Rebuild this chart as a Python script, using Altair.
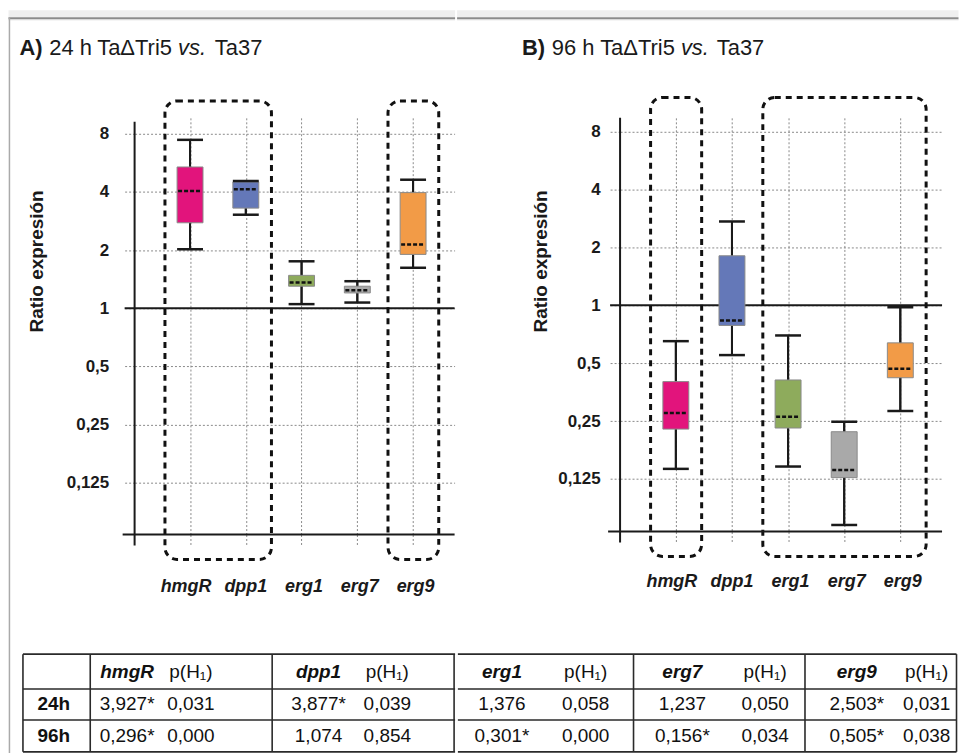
import altair as alt
import pandas as pd

FONT = "Liberation Sans"
INK = "#1a1a1a"
GRID = "#8a8a8a"

# ---------------- data ----------------
genes = ["hmgR", "dpp1", "erg1", "erg7", "erg9"]
gene_colors = ["#E2147C", "#6478B8", "#8EAB5C", "#A9A9A9", "#F29B47"]
y_ticks = [0.125, 0.25, 0.5, 1, 2, 4, 8]

# Panel A: 24 h  (whisker low, Q1, median, Q3, whisker high)
a_low = [2.02, 3.05, 1.05, 1.07, 1.62]
a_q1 = [2.77, 3.30, 1.30, 1.20, 1.90]
a_med = [4.05, 4.13, 1.36, 1.24, 2.14]
a_q3 = [5.39, 4.51, 1.48, 1.30, 3.97]
a_high = [7.45, 4.56, 1.75, 1.38, 4.63]
a_groups = [("hmgR", "dpp1"), ("erg9", "erg9")]

# Panel B: 96 h
b_low = [0.141, 0.551, 0.145, 0.072, 0.282]
b_q1 = [0.227, 0.786, 0.230, 0.127, 0.420]
b_med = [0.275, 0.834, 0.263, 0.139, 0.468]
b_q3 = [0.401, 1.81, 0.409, 0.220, 0.638]
b_high = [0.651, 2.73, 0.697, 0.248, 0.977]
b_groups = [("hmgR", "hmgR"), ("erg1", "erg9")]

# Table
table_rows = ["24h", "96h"]
ratio_24h = [3.927, 3.877, 1.376, 1.237, 2.503]
sig_24h = [True, True, False, False, True]
p_24h = [0.031, 0.039, 0.058, 0.050, 0.031]
ratio_96h = [0.296, 1.074, 0.301, 0.156, 0.505]
sig_96h = [True, False, True, True, True]
p_96h = [0.000, 0.854, 0.000, 0.034, 0.038]

# ---------------- layout constants ----------------
X_DOMAIN = [-0.905, 4.655]
one_row = alt.InlineData(values=[{"a": 1}])
TOP = 116          # page y of both plot tops
SPLIT = 456        # page x where panel A ends and panel B starts
RIGHT = 959        # page x of the right edge
TW, TH = 951, 100  # table block (chart coordinates: x from page 8, y from page TT)
TT = 654           # page y of table top
col_edges = [14.5, 82, 264.5, 447, 625, 797, 949]
row_edges = [0, 35, 66, 98]
label_x = 45.5
value_x = [119, 311, 493, 674, 849]
p_x = [183, 380, 577, 757, 919]
row_y = [(row_edges[k] + row_edges[k + 1]) / 2 for k in range(3)]


def fmt(v):
    return ("%.3f" % v).replace(".", ",")


cells = []
for gi, gname in enumerate(genes):
    cells.append(dict(x=value_x[gi], y=row_y[0], text=gname, kind="gene", g=gi))
    cells.append(dict(x=p_x[gi], y=row_y[0], text="p(H₁)", kind="phead", g=gi))
for r, (lab, vals, sig, ps) in enumerate(
        [(table_rows[0], ratio_24h, sig_24h, p_24h), (table_rows[1], ratio_96h, sig_96h, p_96h)],
        start=1):
    cells.append(dict(x=label_x, y=row_y[r], text=lab, kind="label", g=-1))
    for gi in range(len(genes)):
        cells.append(dict(x=value_x[gi], y=row_y[r],
                          text=fmt(vals[gi]) + ("*" if sig[gi] else ""), kind="value", g=gi))
        cells.append(dict(x=p_x[gi], y=row_y[r], text=fmt(ps[gi]), kind="value", g=gi))
cells_df = pd.DataFrame(cells)


def gene_frame(low, q1, med, q3, high):
    return pd.DataFrame({"gene": genes, "i": list(range(len(genes))), "low": low,
                         "q1": q1, "med": med, "q3": q3, "high": high})


def note(text, dx, dy, size, weight="normal", style="normal", angle=0, align="left",
         baseline="alphabetic"):
    return alt.Chart(one_row).mark_text(
        text=text, font=FONT, fontSize=size, fontWeight=weight, fontStyle=style,
        angle=angle, align=align, baseline=baseline, color=INK
    ).encode(x=alt.value(dx), y=alt.value(dy))


def band(x0, x1, y0, y1, color):
    return alt.Chart(one_row).mark_rect(color=color).encode(
        x=alt.value(x0), x2=alt.value(x1), y=alt.value(y0), y2=alt.value(y1))


def table_part(g, gene_ids, edges, hx0, hx1):
    ox = g["ox"]
    txs = alt.Scale(domain=[0, TW], range=[8 - ox, 8 - ox + TW], nice=False, zero=False)
    tys = alt.Scale(domain=[0, TH], range=[TT - TOP, TT - TOP + TH], nice=False, zero=False)

    def TX(f):
        return alt.X(f, type="quantitative", scale=txs, axis=None)

    def TY(f):
        return alt.Y(f, type="quantitative", scale=tys, axis=None)

    part = cells_df[cells_df["g"].isin(gene_ids)]
    vl = pd.DataFrame({"x": edges, "y0": row_edges[0], "y1": row_edges[-1]})
    hl = pd.DataFrame({"y": row_edges, "x0": hx0, "x1": hx1})
    layers = [
        alt.Chart(vl).mark_rule(color="#2a2a2a", strokeWidth=1.6).encode(
            x=TX("x"), y=TY("y0"), y2="y1:Q"),
        alt.Chart(hl).mark_rule(color="#2a2a2a", strokeWidth=1.6).encode(
            y=TY("y"), x=TX("x0"), x2="x1:Q"),
    ]
    styles = {"gene": ("bold", "italic"), "phead": ("normal", "normal"),
              "label": ("bold", "normal"), "value": ("normal", "normal")}
    for kind, (w, s) in styles.items():
        sub = part[part["kind"] == kind]
        if len(sub) == 0:
            continue
        layers.append(alt.Chart(sub).mark_text(
            font=FONT, fontSize=19, fontWeight=w, fontStyle=s, align="center",
            baseline="middle", color="#111111").encode(x=TX("x"), y=TY("y"), text="text:N"))
    return alt.layer(*layers)


def panel(stats, groups, g, table_layer):
    W, H = g["w"], g["h"]
    xs = alt.Scale(domain=X_DOMAIN, nice=False, zero=False)
    ys = alt.Scale(type="log", base=2, domain=[2 ** g["lbot"], 2 ** g["ltop"]], nice=False)
    label_js = "[" + ",".join("'%s'" % s for s in genes) + "][datum.value]"
    x_axis = alt.Axis(values=list(range(len(genes))), labelExpr=label_js, title=None,
                      orient="bottom", domain=False, grid=True, gridColor=GRID,
                      gridDash=[2, 2], gridWidth=1, ticks=True, tickSize=10, tickColor=GRID,
                      tickDash=[2, 2], tickWidth=1, labelFont=FONT, labelFontSize=18,
                      labelFontWeight="bold", labelFontStyle="italic", labelColor=INK,
                      labelAlign="right", labelOffset=21, labelPadding=g["xlabpad"])
    y_axis = alt.Axis(values=y_ticks, labelExpr="replace(toString(datum.value), '.', ',')",
                      title=None, orient="left", domain=False, grid=True, gridColor=GRID,
                      gridDash=[2, 2], gridWidth=1, ticks=True, tickSize=10, tickColor=GRID,
                      tickDash=[2, 2], tickWidth=1, labelFont=FONT, labelFontSize=17,
                      labelFontWeight="bold", labelColor=INK, labelPadding=g["ylabpad"])

    def X(f):
        return alt.X(f, type="quantitative", scale=xs, axis=x_axis)

    def Y(f):
        return alt.Y(f, type="quantitative", scale=ys, axis=y_axis)

    base = alt.Chart(stats)
    L = []
    # whiskers (first layer carrying the axes)
    L.append(base.mark_rule(color=INK, strokeWidth=2).encode(
        x=X("i"), y=Y("low"), y2="high"))
    # reference line at ratio 1
    L.append(alt.Chart(alt.InlineData(values=[{"v": 1}])).mark_rule(
        color=INK, strokeWidth=2).encode(x=alt.value(-10), x2=alt.value(W), y=Y("v")))
    # redraw whiskers above the reference line
    L.append(base.mark_rule(color=INK, strokeWidth=2).encode(
        x=X("i"), y=Y("low"), y2="high"))
    # boxes
    L.append(base.mark_bar(size=26, stroke="#8a8a8a", strokeWidth=1, opacity=1).encode(
        x=X("i"), y=Y("q1"), y2="q3",
        color=alt.Color("gene:N", scale=alt.Scale(domain=genes, range=gene_colors),
                        legend=None)))
    # caps
    L.append(base.transform_fold(["low", "high"], as_=["k", "v"]).mark_rule(
        color=INK, strokeWidth=2.5, xOffset=-13, x2Offset=13).encode(
        x=X("i"), x2="i:Q", y=Y("v")))
    # medians
    L.append(base.mark_rule(color="#111111", strokeWidth=2.5, strokeDash=[4, 2],
                            xOffset=-12, x2Offset=12).encode(
        x=X("i"), x2="i:Q", y=Y("med")))
    # dashed group frames
    gdf = pd.DataFrame({"i0": [genes.index(a) for a, b in groups],
                        "i1": [genes.index(b) for a, b in groups]})
    L.append(alt.Chart(gdf).transform_calculate(
        x0="datum.i0 - 0.45", x1="datum.i1 + 0.46").mark_rect(
        fill="transparent", stroke="#111111", strokeWidth=3, strokeDash=[6, 5],
        cornerRadius=12).encode(x=X("x0"), x2="x1:Q",
                                y=alt.value(g["grp_top"]), y2=alt.value(g["grp_bot"])))
    # axis lines
    L.append(alt.Chart(one_row).mark_rule(color=INK, strokeWidth=2).encode(
        x=alt.value(-12), x2=alt.value(W), y=alt.value(H)))
    L.append(alt.Chart(one_row).mark_rule(color=INK, strokeWidth=2).encode(
        x=alt.value(0), y=alt.value(g["axis_top"]), y2=alt.value(H + 11)))
    # figure frame (light strip and border lines)
    L.append(band(g["strip_x0"], g["strip_x1"], 8 - TOP, 15 - TOP, "#efefef"))
    L.append(band(g["strip_x0"], g["strip_x1"], 15 - TOP, 17 - TOP, "#8c8c8c"))
    L.append(band(g["strip_x0"], g["strip_x1"], 17 - TOP, 18 - TOP, "#d6d6d6"))
    if g.get("left_line") is not None:
        L.append(band(g["left_line"], g["left_line"] + 1.5, 15 - TOP, TT + TH - TOP,
                      "#aaaaaa"))
    # title pieces
    for text, weight, style, dx in g["title"]:
        L.append(note(text, dx, 53 - TOP, 22, weight, style))
    # y-axis title
    L.append(note("Ratio expresión", g["ytitle_x"], 260 - TOP, 19, "bold",
                  angle=270, align="center", baseline="middle"))
    return alt.layer(alt.layer(*L), table_layer).resolve_scale(
        x="independent", y="independent").properties(width=W, height=H)


geom_a = dict(ox=134.5, w=321, h=418, lbot=-3.894, ltop=3.276, xlabpad=33, ylabpad=16,
              axis_top=4, grp_top=99 - TOP, grp_bot=559 - TOP,
              strip_x0=8 - 134.5, strip_x1=SPLIT - 134.5, left_line=8.2 - 134.5,
              ytitle_x=37 - 134.5,
              title=[("A)", "bold", "normal", -115.5), ("24 h", "normal", "normal", -85.5),
                     ("TaΔTri5", "normal", "normal", -37.5), ("vs.", "normal", "italic", 43.5),
                     ("Ta37", "normal", "normal", 80.5)])
geom_b = dict(ox=619.5, w=323, h=415, lbot=-3.909, ltop=3.240, xlabpad=31, ylabpad=10,
              axis_top=0, grp_top=95.5 - TOP, grp_bot=556 - TOP,
              strip_x0=SPLIT - 619.5, strip_x1=RIGHT - 619.5, left_line=None,
              ytitle_x=540 - 619.5,
              title=[("B)", "bold", "normal", -98.5), ("96 h", "normal", "normal", -68.5),
                     ("TaΔTri5", "normal", "normal", -20), ("vs.", "normal", "italic", 61),
                     ("Ta37", "normal", "normal", 97)])

table_a = table_part(geom_a, [-1, 0, 1], col_edges[:4], col_edges[0], col_edges[3] + 1.0)
table_b = table_part(geom_b, [2, 3, 4], col_edges[4:], col_edges[3] + 1.8, col_edges[6])

chart_a = panel(gene_frame(a_low, a_q1, a_med, a_q3, a_high), a_groups, geom_a, table_a)
chart_b = panel(gene_frame(b_low, b_q1, b_med, b_q3, b_high), b_groups, geom_b, table_b)

chart = alt.hconcat(chart_a, chart_b, spacing=0).properties(
    padding={"left": 0, "top": 0, "right": 0, "bottom": 0}, background="white"
).configure_view(stroke="transparent")

chart.save("out.html", embed_options={"renderer": "svg", "actions": False})
